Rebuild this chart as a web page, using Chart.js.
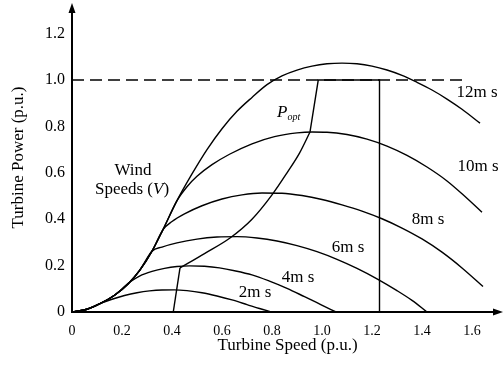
<!DOCTYPE html>
<html><head><meta charset="utf-8">
<script src="https://cdn.jsdelivr.net/npm/chart.js@4/dist/chart.umd.min.js"></script>
<style>html,body{margin:0;padding:0;background:#fff}#wrap{width:504px;height:365px;position:relative}</style>
</head><body><div id="wrap"><canvas id="c" width="504" height="365"></canvas></div>
<script>
// ---- tick values / labels ----
const xTicks = [0, 0.2, 0.4, 0.6, 0.8, 1.0, 1.2, 1.4, 1.6];
const xTickLabels = ['0', '0.2', '0.4', '0.6', '0.8', '1.0', '1.2', '1.4', '1.6'];
const yTicks = [0, 0.2, 0.4, 0.6, 0.8, 1.0, 1.2];
const yTickLabels = ['0', '0.2', '0.4', '0.6', '0.8', '1.0', '1.2'];

// ---- turbine power curves (speed p.u. -> power p.u.) ----
const speed2 = [0, 0.06, 0.116, 0.16, 0.21, 0.26, 0.31, 0.36, 0.41, 0.46, 0.52, 0.58, 0.64, 0.70, 0.75, 0.80];
const power2 = [0, 0.012, 0.038, 0.055, 0.071, 0.083, 0.091, 0.095, 0.0955, 0.092, 0.083, 0.069, 0.052, 0.032, 0.015, 0];

const speed4 = [0, 0.06, 0.116, 0.17, 0.23, 0.27, 0.32, 0.37, 0.42, 0.47, 0.53, 0.59, 0.65, 0.72, 0.79, 0.86, 0.93, 0.995, 1.056];
const power4 = [0, 0.012, 0.038, 0.072, 0.128, 0.155, 0.175, 0.188, 0.196, 0.199, 0.197, 0.19, 0.178, 0.16, 0.133, 0.102, 0.066, 0.032, 0];

const speed6 = [0, 0.06, 0.116, 0.17, 0.225, 0.27, 0.32, 0.36, 0.42, 0.50, 0.58, 0.66, 0.74, 0.82, 0.90, 0.98, 1.06, 1.14, 1.22, 1.30, 1.36, 1.42];
const power6 = [0, 0.012, 0.038, 0.072, 0.122, 0.178, 0.262, 0.28, 0.298, 0.314, 0.323, 0.325, 0.319, 0.306, 0.286, 0.26, 0.227, 0.188, 0.143, 0.092, 0.05, 0];

const speed8 = [0, 0.06, 0.116, 0.17, 0.225, 0.27, 0.32, 0.364, 0.40, 0.45, 0.52, 0.60, 0.68, 0.76, 0.84, 0.92, 1.00, 1.08, 1.16, 1.24, 1.32, 1.40, 1.48, 1.56, 1.644];
const power8 = [0, 0.012, 0.038, 0.072, 0.122, 0.178, 0.262, 0.355, 0.39, 0.423, 0.458, 0.487, 0.505, 0.513, 0.512, 0.502, 0.485, 0.462, 0.435, 0.402, 0.362, 0.315, 0.258, 0.19, 0.11];

const speed10 = [0, 0.06, 0.116, 0.17, 0.225, 0.27, 0.32, 0.364, 0.42, 0.46, 0.50, 0.56, 0.63, 0.72, 0.81, 0.90, 0.96, 1.02, 1.10, 1.18, 1.26, 1.34, 1.42, 1.50, 1.57, 1.64];
const power10 = [0, 0.012, 0.038, 0.072, 0.122, 0.178, 0.262, 0.355, 0.48, 0.54, 0.585, 0.635, 0.68, 0.725, 0.756, 0.772, 0.776, 0.775, 0.765, 0.745, 0.715, 0.675, 0.625, 0.565, 0.5, 0.43];

const speed12 = [0, 0.06, 0.116, 0.17, 0.225, 0.27, 0.32, 0.364, 0.42, 0.48, 0.54, 0.60, 0.66, 0.72, 0.78, 0.84, 0.90, 0.96, 1.02, 1.08, 1.14, 1.20, 1.26, 1.32, 1.38, 1.44, 1.50, 1.56, 1.632];
const power12 = [0, 0.012, 0.038, 0.072, 0.122, 0.178, 0.262, 0.355, 0.48, 0.595, 0.70, 0.79, 0.865, 0.925, 0.98, 1.018, 1.043, 1.06, 1.07, 1.073, 1.07, 1.06, 1.043, 1.02, 0.99, 0.957, 0.918, 0.874, 0.814];

// ---- optimal power tracking path ----
const poptLowSpeed = [0.405, 0.432];
const poptLowPower = [0, 0.19];
const poptMidSpeed = [0.432, 0.53, 0.632, 0.72, 0.80, 0.86, 0.91, 0.952];
const poptMidPower = [0.19, 0.252, 0.319, 0.40, 0.505, 0.60, 0.685, 0.776];
const poptTopSpeed = [0.952, 0.985, 1.23, 1.23];
const poptTopPower = [0.776, 1.0, 1.0, 0];

// ---- rated power dashed line ----
const ratedSpeed = [0, 1.58];
const ratedPower = [1.0, 1.0];

// ---- text annotations (data coordinates) ----
const curveLabels = ['12m s', '10m s', '8m s', '6m s', '4m s', '2m s', 'Wind'];
const curveLabelX = [1.62, 1.624, 1.424, 1.104, 0.904, 0.732, 0.244];
const curveLabelY = [0.948, 0.625, 0.40, 0.276, 0.147, 0.082, 0.61];

const pts = (xs, ys) => xs.map((x, i) => ({x: x, y: ys[i]}));
const FONT = '"Liberation Serif", "Times New Roman", serif';

function curve(xs, ys, extra) {
  return Object.assign({
    data: pts(xs, ys), borderColor: '#000', borderWidth: 1.4, pointRadius: 0,
    fill: false, cubicInterpolationMode: 'monotone'
  }, extra || {});
}

const annot = {
  id: 'annot',
  afterDraw(chart) {
    const {ctx, chartArea: a, scales: {x, y}} = chart;
    ctx.save();
    ctx.fillStyle = '#000'; ctx.strokeStyle = '#000';
    // axes with arrows
    ctx.lineWidth = 2;
    ctx.beginPath();
    ctx.moveTo(a.left, a.bottom); ctx.lineTo(a.left, a.top + 6);
    ctx.moveTo(a.left - 1, a.bottom); ctx.lineTo(a.right - 6, a.bottom);
    ctx.stroke();
    ctx.beginPath();
    ctx.moveTo(a.left, a.top); ctx.lineTo(a.left - 3.5, a.top + 10); ctx.lineTo(a.left + 3.5, a.top + 10);
    ctx.closePath(); ctx.fill();
    ctx.beginPath();
    ctx.moveTo(a.right, a.bottom); ctx.lineTo(a.right - 10, a.bottom - 3.5); ctx.lineTo(a.right - 10, a.bottom + 3.5);
    ctx.closePath(); ctx.fill();
    // curve labels
    ctx.textAlign = 'center'; ctx.textBaseline = 'middle';
    ctx.font = '17px ' + FONT;
    curveLabels.forEach((t, i) => {
      ctx.fillText(t, x.getPixelForValue(curveLabelX[i]), y.getPixelForValue(curveLabelY[i]));
    });
    // "Speeds (V)" with italic V
    const sx = x.getPixelForValue(0.24), sy = y.getPixelForValue(0.526);
    const parts = [['Speeds (', '17px ' + FONT], ['V', 'italic 17px ' + FONT], [')', '17px ' + FONT]];
    let tw = 0;
    parts.forEach(p => { ctx.font = p[1]; tw += ctx.measureText(p[0]).width; });
    let cx = sx - tw / 2;
    ctx.textAlign = 'left';
    parts.forEach(p => { ctx.font = p[1]; ctx.fillText(p[0], cx, sy); cx += ctx.measureText(p[0]).width; });
    // P_opt
    const px = x.getPixelForValue(0.852), py = y.getPixelForValue(0.862);
    ctx.font = 'italic 17px ' + FONT;
    ctx.fillText('P', px - 8, py);
    const pw = ctx.measureText('P').width;
    ctx.font = 'italic 10px ' + FONT;
    ctx.fillText('opt', px - 8 + pw, py + 5);
    ctx.restore();
  }
};

new Chart(document.getElementById('c'), {
  type: 'line',
  data: {
    datasets: [
      curve(speed2, power2), curve(speed4, power4), curve(speed6, power6),
      curve(speed8, power8), curve(speed10, power10), curve(speed12, power12),
      curve(poptLowSpeed, poptLowPower, {tension: 0, cubicInterpolationMode: 'default'}),
      curve(poptMidSpeed, poptMidPower),
      curve(poptTopSpeed, poptTopPower, {tension: 0, cubicInterpolationMode: 'default'}),
      curve(ratedSpeed, ratedPower, {tension: 0, cubicInterpolationMode: 'default', borderDash: [12, 6], borderWidth: 1.3})
    ]
  },
  options: {
    responsive: false, animation: false, devicePixelRatio: 1,
    layout: {padding: {top: 3, right: 1, left: 0, bottom: 0}},
    plugins: {legend: {display: false}, tooltip: {enabled: false}},
    scales: {
      x: {
        type: 'linear', min: 0, max: 1.724,
        grid: {display: false, drawTicks: false}, border: {display: false},
        afterBuildTicks: s => { s.ticks = xTicks.map(v => ({value: v})); },
        afterFit: s => { s.height = 53; s.paddingLeft = 0; s.paddingRight = 0; },
        ticks: {
          padding: 11, color: '#000', font: {family: FONT, size: 14},
          callback: (v, i) => xTickLabels[i], maxRotation: 0, autoSkip: false
        },
        title: {display: true, text: 'Turbine Speed (p.u.)', color: '#000',
          font: {family: FONT, size: 17}, padding: {top: 0, bottom: 9}}
      },
      y: {
        min: 0, max: 1.332,
        grid: {display: false, drawTicks: false}, border: {display: false},
        afterBuildTicks: s => { s.ticks = yTicks.map(v => ({value: v})); },
        afterFit: s => { s.width = 72; s.paddingTop = 0; s.paddingBottom = 0; },
        ticks: {
          padding: 7, color: '#000', font: {family: FONT, size: 16},
          callback: (v, i) => yTickLabels[i], autoSkip: false
        },
        title: {display: true, text: 'Turbine Power (p.u.)', color: '#000',
          font: {family: FONT, size: 17}, padding: {top: 8, bottom: 0}}
      }
    }
  },
  plugins: [annot]
});
</script></body></html>
